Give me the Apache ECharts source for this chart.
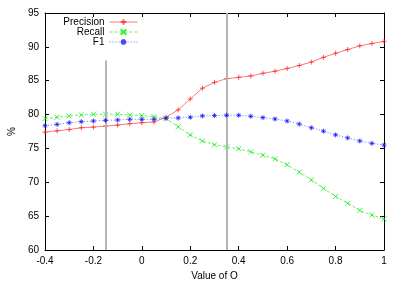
<!DOCTYPE html>
<html>
<head>
<meta charset="utf-8">
<script src="https://cdn.jsdelivr.net/npm/echarts@6/dist/echarts.min.js"></script>
<style>
html,body{margin:0;padding:0;background:#fff;}
#chart{width:402px;height:281px;}
</style>
</head>
<body>
<div id="chart"></div>
<script>
// ---- data ----
const xValues = [-0.4, -0.35, -0.3, -0.25, -0.2, -0.15, -0.1, -0.05, 0, 0.05, 0.1, 0.15, 0.2, 0.25, 0.3, 0.35, 0.4, 0.45, 0.5, 0.55, 0.6, 0.65, 0.7, 0.75, 0.8, 0.85, 0.9, 0.95, 1.0];
const precision = [77.4, 77.6, 77.8, 78.05, 78.15, 78.3, 78.45, 78.65, 78.8, 78.9, 79.6, 80.7, 82.3, 83.9, 84.75, 85.3, 85.5, 85.7, 86.1, 86.4, 86.8, 87.25, 87.75, 88.45, 89.05, 89.6, 90.15, 90.5, 90.8];
const recall = [79.4, 79.6, 79.8, 79.95, 80.05, 80.05, 80.05, 79.95, 79.85, 79.7, 79.4, 78.2, 77.0, 76.1, 75.55, 75.2, 74.95, 74.5, 74.0, 73.45, 72.6, 71.5, 70.35, 69.1, 67.9, 66.9, 65.85, 65.15, 64.6];
const f1 = [78.35, 78.55, 78.8, 78.95, 79.05, 79.15, 79.2, 79.3, 79.3, 79.3, 79.45, 79.5, 79.6, 79.8, 79.85, 79.9, 79.9, 79.75, 79.55, 79.35, 79.05, 78.6, 78.05, 77.55, 77.0, 76.55, 76.1, 75.75, 75.5];
const seriesNames = ['Precision', 'Recall', 'F1'];
// vertical reference lines: [x, yFrom, yTo]
const refLines = [[-0.15, 60, 88], [0.35, 60, 95]];
const xTicks = {min: -0.4, max: 1, interval: 0.2};
const yTicks = {min: 60, max: 95, interval: 5};
const xLabel = 'Value of O';
const yLabel = '%';

// ---- styling ----
const FONT = 'Liberation Sans';
const plusPath = 'path://M0,5L10,5M5,0L5,10';
const crossPath = 'path://M0,0L10,10M0,10L10,0';
const starPath = 'path://M0,5L10,5M5,0L5,10M1.5,1.5L8.5,8.5M1.5,8.5L8.5,1.5';

function pairs(ys) { return xValues.map((x, i) => [x, ys[i]]); }

const chart = echarts.init(document.getElementById('chart'), null, {renderer: 'canvas'});

function axisCommon() {
  return {
    axisLine: {show: true, onZero: false, lineStyle: {color: '#000', width: 1}},
    axisTick: {show: true, inside: true, length: 4, lineStyle: {color: '#000', width: 1}},
    splitLine: {show: false},
    axisLabel: {color: '#000', fontFamily: FONT, fontSize: 10, margin: 6},
  };
}

const seriesDefs = [
  {name: seriesNames[0], data: precision, color: '#ff2020', symbol: plusPath, dash: 'solid'},
  {name: seriesNames[1], data: recall, color: '#00e800', symbol: crossPath, dash: [3, 2]},
  {name: seriesNames[2], data: f1, color: '#1010ff', symbol: starPath, dash: [1, 2]},
];

const series = seriesDefs.map((s, idx) => {
  const o = {
    name: s.name,
    type: 'line',
    data: pairs(s.data),
    symbol: s.symbol,
    symbolSize: 5,
    showSymbol: true,
    showAllSymbol: true,
    animation: false,
    lineStyle: {color: s.color, width: 1, type: s.dash, opacity: 0.6},
    itemStyle: {color: s.color, borderColor: s.color, borderWidth: 1, opacity: 0.75},
    emphasis: {disabled: true},
    z: 3 + idx,
  };
  if (idx === 0) {
    o.markLine = {
      silent: true,
      symbol: ['none', 'none'],
      animation: false,
      label: {show: false},
      lineStyle: {color: '#b4b4b4', width: 2, type: 'solid', opacity: 1},
      data: refLines.map(r => [{coord: [r[0], r[1]]}, {coord: [r[0], r[2]]}]),
    };
  }
  return o;
});

chart.setOption({
  animation: false,
  backgroundColor: '#fff',
  grid: {left: 45, right: 18, top: 13, bottom: 31, containLabel: false, outerBoundsMode: 'none'},
  legend: {
    data: seriesNames,
    orient: 'vertical',
    align: 'right',
    right: 264,
    top: 17,
    padding: 0,
    itemGap: 0,
    itemWidth: 28,
    itemHeight: 7,
    lineStyle: {width: 1},
    textStyle: {color: '#000', fontFamily: FONT, fontSize: 10, lineHeight: 10},
    selectedMode: false,
  },
  xAxis: [
    Object.assign(axisCommon(), {
      type: 'value', position: 'bottom', min: xTicks.min, max: xTicks.max, interval: xTicks.interval,
      name: xLabel, nameLocation: 'middle', nameGap: 21,
      nameTextStyle: {color: '#000', fontFamily: FONT, fontSize: 10},
    }),
    Object.assign(axisCommon(), {
      type: 'value', position: 'top', min: xTicks.min, max: xTicks.max, interval: xTicks.interval,
      axisLabel: {show: false},
    }),
  ],
  yAxis: [
    Object.assign(axisCommon(), {
      type: 'value', position: 'left', min: yTicks.min, max: yTicks.max, interval: yTicks.interval,
      name: yLabel, nameLocation: 'middle', nameGap: 28,
      nameTextStyle: {color: '#000', fontFamily: FONT, fontSize: 10},
    }),
    Object.assign(axisCommon(), {
      type: 'value', position: 'right', min: yTicks.min, max: yTicks.max, interval: yTicks.interval,
      axisLabel: {show: false},
    }),
  ],
  series: series,
});
</script>
</body>
</html>
